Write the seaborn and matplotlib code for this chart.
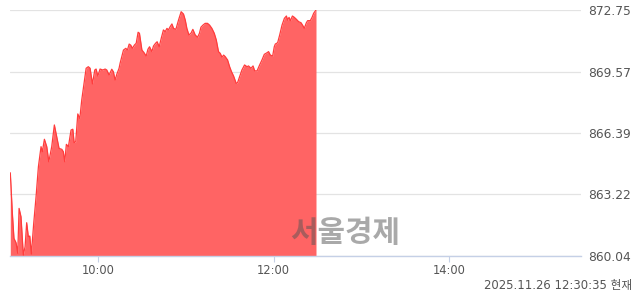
import matplotlib
matplotlib.use("Agg")
import matplotlib.pyplot as plt
import seaborn as sns
import pandas as pd

# minutes after 09:00
minutes = [0.2, 1.6, 2.7, 4.1, 5.3, 6.2, 7.5, 9.1, 10.3, 11.4, 12.5, 13.5, 14.6, 16.2, 17.8,
           19.4, 21.2, 22.1, 23.5, 25.1, 26.5, 28.5, 30.3, 31.9, 33.5, 35.4, 36.4, 37.4, 38.5,
           39.9, 41.7, 42.9, 43.8, 44.9, 46.3, 47.7, 49.0, 52.0, 53.5, 54.7, 56.3, 57.9, 58.8,
           60.0, 61.5, 63.4, 65.0, 66.1, 67.7, 69.5, 70.6, 71.8, 73.0, 74.5, 75.2, 77.5, 79.1,
           80.2, 81.4, 82.5, 83.6, 85.0, 86.2, 87.5, 88.4, 90.1, 91.6, 93.0, 94.2, 95.3, 96.9,
           98.0, 99.4, 100.5, 101.9, 103.3, 104.8, 106.0, 107.2, 108.2, 109.4, 110.6, 111.7,
           113.3, 115.1, 116.9, 118.5, 119.7, 120.8, 122.2, 123.6, 124.9, 126.5, 128.1, 129.4,
           130.4, 131.8, 133.3, 134.9, 136.3, 137.9, 139.5, 140.9, 142.4, 143.6, 144.8, 145.9,
           147.0, 148.6, 150.0, 151.3, 152.7, 154.5, 155.4, 156.8, 158.4, 160.2, 161.9, 162.9,
           164.6, 166.0, 167.1, 168.7, 170.5, 172.1, 173.7, 175.5, 176.6, 177.8, 179.4, 180.5,
           181.2, 182.8, 184.2, 185.8, 187.4, 188.8, 189.6, 190.6, 191.5, 192.9, 194.2, 195.6,
           197.1, 198.8, 200.2, 201.0, 202.4, 203.3, 205.1, 206.3, 207.4, 209.0]
values = [864.34, 862.25, 860.95, 860.73, 860.18, 862.50, 862.07, 860.09, 860.52, 861.76,
          861.04, 861.07, 860.14, 861.73, 863.10, 864.65, 865.69, 865.43, 866.07, 865.69,
          864.91, 865.69, 866.81, 866.20, 865.60, 865.55, 865.43, 864.91, 865.81, 865.69,
          866.55, 866.59, 865.89, 865.95, 867.38, 867.15, 868.10, 869.74, 869.82, 869.74,
          868.93, 869.65, 869.70, 869.34, 869.70, 869.65, 869.70, 869.65, 869.39, 869.69,
          869.56, 869.13, 869.44, 869.74, 870.00, 870.68, 870.77, 870.68, 870.99, 870.93,
          870.77, 870.94, 871.03, 871.60, 871.55, 870.68, 870.54, 870.37, 870.72, 870.85,
          870.60, 870.89, 871.03, 871.11, 870.85, 871.29, 871.72, 871.63, 871.80, 871.72,
          871.89, 872.03, 871.80, 871.75, 872.23, 872.66, 872.54, 872.23, 871.80, 871.46,
          871.55, 871.75, 871.46, 871.34, 871.55, 871.86, 871.97, 872.06, 872.06, 871.97,
          871.80, 871.55, 871.20, 870.60, 870.51, 870.31, 870.42, 870.34, 870.17, 869.82,
          869.56, 869.34, 868.96, 868.99, 869.30, 869.65, 869.91, 869.82, 869.86, 869.74,
          869.86, 869.61, 869.60, 869.91, 870.17, 870.46, 870.54, 870.60, 870.42, 870.37,
          870.85, 870.99, 871.06, 871.46, 871.97, 872.32, 872.44, 872.23, 872.37, 872.20,
          872.44, 872.37, 872.27, 872.15, 872.09, 871.92, 871.80, 872.09, 872.20, 872.20,
          872.37, 872.58, 872.75]

y_ticks = [860.04, 863.22, 866.39, 869.57, 872.75]
x_tick_minutes = [60, 180, 300]
x_tick_labels = ["10:00", "12:00", "14:00"]
x_range = [0, 390]
watermark = "서울경제"
stamp = "2025.11.26 12:30:35 현재"

df = pd.DataFrame({"t": minutes, "v": values})

sns.set_theme(style="white")
plt.rcParams["font.family"] = ["DejaVu Sans", "Noto Sans CJK KR"]

fig = plt.figure(figsize=(6.4, 2.94), dpi=100)
ax = fig.add_axes([10 / 640, 1 - 256 / 294, 571 / 640, 246 / 294])

ax.fill_between(df["t"], df["v"], y_ticks[0], color="#ff6464", linewidth=0, zorder=2)
sns.lineplot(data=df, x="t", y="v", ax=ax, color="#ff3c3c", linewidth=0.9, zorder=3)

ax.set_xlim(*x_range)
ax.set_ylim(y_ticks[0], y_ticks[-1])
ax.set_xlabel("")
ax.set_ylabel("")

ax.set_yticks(y_ticks)
ax.set_yticklabels([f"{v:.2f}" for v in y_ticks])
ax.yaxis.tick_right()
ax.tick_params(axis="y", length=0, pad=5, labelsize=8.8, labelcolor="#555555")
ax.set_xticks(x_tick_minutes)
ax.set_xticklabels(x_tick_labels)
ax.tick_params(axis="x", length=4.5, width=0.8, color="#c5d0e6", pad=1.5,
               labelsize=8.3, labelcolor="#555555", direction="out", bottom=True)

ax.grid(axis="y", color="#e3e3e3", linewidth=0.9, zorder=0)
ax.set_axisbelow(True)
for s in ["top", "left", "right"]:
    ax.spines[s].set_visible(False)
ax.spines["bottom"].set_color("#c5d0e6")
ax.spines["bottom"].set_linewidth(1.0)

fig.text(345 / 640, 1 - 233 / 294, watermark, ha="center", va="center",
         fontsize=21.5, fontweight="bold", color="#555555", alpha=0.5,
         family=["Noto Sans CJK KR"], zorder=10)
fig.text(632 / 640, 1 - 289 / 294, stamp, ha="right", va="baseline",
         fontsize=8.4, color="#555555", family=["DejaVu Sans", "Noto Sans CJK KR"])

fig.savefig("out.png", dpi=100)
